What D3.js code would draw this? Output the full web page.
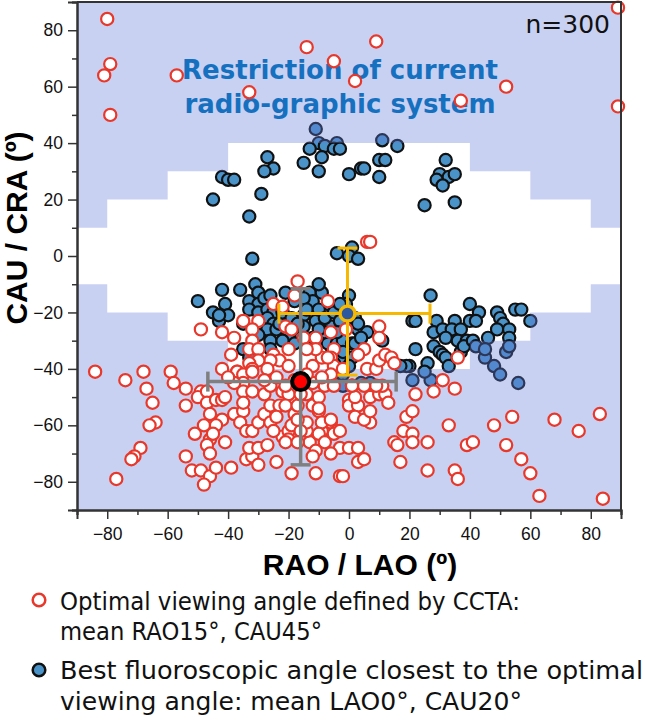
<!DOCTYPE html>
<html lang="en">
<head>
<meta charset="UTF-8">
<title>Optimal viewing angle</title>
<script src="https://cdn.jsdelivr.net/npm/d3@7"></script>
<style>
  body { margin: 0; background: #fff; }
</style>
</head>
<body>
<div id="my_dataviz"></div>
<script>

// optimal viewing angle by CCTA (red open circles), [RAO/LAO, CAU/CRA]
const redPts = [
  [-80,84],[-79,68],[-81,64],[-79,50],[-57,64],[-33,58],[-14,74],[-5,69],[9,76],[2,62],[52,60],[37,55],[89,88],[89,53],
  [6,5],[7,5],[-17,-9],[-18,-14],[-25,-17],[-22,-18],[-7,-16],[-35,-23],[-30,-23],[-49,-26],[-42,-27],[-38,-29],
  [-32,-26],[-32,-30],[-33,-33],[-30,-33],[-39,-35],[-21,-25],[-19,-26],[-15,-29],[-11,-29],[-6,-27],[-1,-26],
  [-5,-33],[-6,-36],[-9,-36],[-11,-33],[-14,-33],[-20,-33],[-25,-35],[-23,-37],[-26,-37],[-30,-37],[-33,-38],
  [-42,-40],[-37,-41],[-32,-40],[-27,-40],[-20,-39],[-12,-39],[-5,-39],[-2,-40],[10,-25],[10,-29],[5,-33],[3,-35],
  [6,-40],[9,-40],[10,-37],[12,-35],[14,-36],[15,-38],[-7,-36],
  [-84,-41],[-74,-44],[-68,-41],[-59,-41],[-67,-47],[-58,-45],[-54,-47],[-65,-52],[-64,-59],[-66,-60],[-54,-53],
  [-69,-68],[-71,-71],[-72,-72],[-77,-79],[-54,-71],[-52,-76],[-49,-76],[-46,-78],[-48,-81],[-44,-75],[-39,-75],
  [-49,-48],[-50,-50],[-47,-48],[-47,-52],[-44,-51],[-42,-51],[-46,-56],[-42,-58],[-51,-63],[-48,-60],[-44,-60],
  [-46,-65],[-41,-66],[-47,-67],[-46,-70],[-45,-63],[-38,-56],[-35,-55],[-36,-59],[-34,-62],[-32,-62],[-30,-59],
  [-28,-56],[-26,-59],[-34,-72],[-32,-71],[-30,-74],[-24,-73],[-33,-68],[-30,-68],[-27,-67],[-37,-41],[-35,-42],
  [-35,-45],[-35,-48],[-35,-52],[-32,-41],[-32,-48],[-28,-49],[-26,-46],[-22,-48],[-26,-53],[-23,-53],[-19,-50],
  [-41,-50],[-38,-45],[-40,-43],
  [-22,-64],[-20,-62],[-20,-65],[-21,-66],[-19,-77],[-11,-77],[-3,-78],[-2,-78],[-13,-66],[-11,-69],[-12,-71],
  [-9,-62],[-6,-59],[-4,-62],[-3,-68],[0,-68],[3,-68],[3,-73],[5,-72],[-14,-62],[-14,-59],[-10,-55],[-12,-53],
  [-14,-49],[-20,-49],[-21,-53],[-18,-56],[-17,-53],[-16,-49],[-6,-42],[1,-52],[7,-59],[-10,-50],[-10,-54],
  [-9,-59],[-6,-58],[-5,-63],[-10,-63],[-3,-62],[0,-51],[0,-53],[3,-53],[2,-57],[5,-58],[7,-55],[2,-50],[7,-50],
  [10,-49],[12,-49],[13,-52],[11,-46],[9,-46],[5,-46],[1,-46],[-8,-46],[-5,-46],[-19,-60],[-16,-62],[-17,-66],
  [-24,-57],[-25,-62],[-18,-44],[-21,-46],[-24,-43],[-12,-45],[-9,-43],[-28,-44],[-14,-42],[-17,-58],[-8,-66],[-6,-70],
  [36,-36],[31,-44],[28,-48],[35,-47],[22,-49],[19,-57],[21,-55],[18,-62],[21,-63],[21,-66],[15,-66],[16,-67],
  [26,-66],[17,-73],[26,-76],[33,-60],[39,-67],[41,-66],[35,-76],[36,-79],[48,-60],[54,-57],[52,-67],[57,-72],
  [60,-77],[63,-85],[68,-58],[76,-62],[83,-56],[84,-86]
];

// best fluoroscopic angle (blue filled circles)
const bluePts = [
  [-11,45],[-10,40],[-4,40],[11,41],[16,39],[-13,38],[-8,39],[-5,38],[-3,38],[-9,35],[-15,33],[-10,30],[-27,35],
  [-25,31],[-28,30],[-42,28],[-40,27],[-38,27],[-45,20],[-29,22],[-33,14],[-32,-1],[0,29],[4,31],[5,31],[10,34],
  [12,34],[10,28],[32,34],[30,29],[29,27],[33,28],[35,29],[31,25],[25,18],[35,19],[-4,1],[1,3],[0,0],[3,-1],
  [-50,-16],[-42,-12],[-36,-12],[-31,-10],[-41,-17],[-45,-20],[-43,-23],[-40,-21],[-43,-21],[-33,-16],[-30,-13],
  [-30,-17],[-28,-15],[-26,-14],[-33,-19],[-30,-20],[-27,-19],[-25,-20],[-27,-22],[-25,-24],[-27,-26],[-24,-26],
  [-23,-24],[-22,-20],[-21,-13],[-13,-13],[-12,-16],[-15,-15],[-9,-13],[-7,-17],[-6,-25],[-15,-21],[-14,-19],
  [-11,-23],[-15,-25],[-16,-29],[-12,-29],[-9,-30],[-7,-31],[-4,-31],[-2,-30],[-1,-25],[1,-31],[1,-36],[0,-39],
  [-26,-30],[-26,-33],[-35,-33],[-33,-36],[0,-14],[-1,-17],[-35,-24],[-30,-28],[-10,-10],
  [-18,-16],[-19,-22],[-17,-24],[-20,-28],[-10,-19],[-8,-22],[-5,-20],[-3,-23],[-3,-17],[-1,-20],[2,-22],[3,-26],
  [4,-29],[2,-31],[-4,-27],[-8,-27],[-10,-26],[-18,-31],[-22,-30],[-6,-35],[-3,-36],[-2,-34],[-5,-38],[-2,-42],
  [-5,-45],[-2,-46],[1,-46],[4,-45],[7,-45],
  [3,-24],[6,-27],[4,-29],[11,-30],[27,-14],[21,-23],[22,-23],[29,-23],[35,-23],[40,-23],[40,-17],[43,-20],
  [42,-23],[49,-20],[50,-22],[51,-24],[49,-26],[53,-26],[55,-19],[57,-19],[60,-23],[28,-27],[31,-26],[34,-26],
  [32,-29],[37,-26],[36,-30],[39,-30],[28,-32],[22,-33],[30,-34],[31,-35],[32,-36],[26,-38],[20,-39],[19,-39],
  [17,-39],[33,-39],[37,-34],[38,-32],[41,-30],[46,-29],[53,-29],
  [42,-32],[45,-36],[48,-39],[50,-42],[52,-34],[53,-32],[56,-45],[21,-44],[27,-44],[25,-41],[45,-33]
];

// means with error bars: [mean x, mean y, x low, x high, y low, y high]
const redMean  = [-16, -44.5, -46.7, 15.6, -74, -11.6];
const blueMean = [-0.5, -20.4, -23.2, 26.8, -42.2, 2.8];

// limits of the radiographic system: |CAU/CRA| allowed for each RAO/LAO band
const bandEdges  = [-90, -80, -60, -40, 40, 60, 80, 90];
const bandLimits = [10, 20, 30, 40, 30, 20, 10];

const majorTicks = [-80, -60, -40, -20, 0, 20, 40, 60, 80];
const minorTicks = [-90, -70, -50, -30, -10, 10, 30, 50, 70, 90];

const legendLines = [
  ["Optimal viewing angle defined by CCTA:", "mean RAO15°, CAU45°"],
  ["Best fluoroscopic angle closest to the optimal", "viewing angle: mean LAO0°, CAU20°"]
];
const legendWidths = [[460, 262], [583, 462]];

const W = 646, H = 726;
const plot = {left: 77, right: 621, top: 2, bottom: 510};

const svg = d3.select("#my_dataviz")
  .append("svg")
    .attr("width", W)
    .attr("height", H)
    .style("display", "block");

const x = d3.scaleLinear().domain([-90, 90]).range([plot.left, plot.right]);
const y = d3.scaleLinear().domain([-90, 90]).range([plot.bottom, plot.top]);

const R = 6.1;

// blue points go under the shaded restriction
svg.append("g")
  .selectAll("circle")
  .data(bluePts)
  .join("circle")
    .attr("cx", d => x(d[0]))
    .attr("cy", d => y(d[1]))
    .attr("r", R)
    .attr("fill", "#4a93c9")
    .attr("stroke", "#111")
    .attr("stroke-width", 2.2);

// restricted region = plot rectangle minus the stepped allowed area
let upper = [], lower = [];
bandLimits.forEach((lim, i) => {
  upper.push([bandEdges[i], lim], [bandEdges[i + 1], lim]);
  lower.push([bandEdges[i], -lim], [bandEdges[i + 1], -lim]);
});
const allowed = upper.concat(lower.reverse());
const line = d3.line().x(d => x(d[0])).y(d => y(d[1]));
const outer = `M${x(-90)},${y(90)}H${x(90)}V${y(-90)}H${x(-90)}Z`;
svg.append("path")
  .attr("d", outer + line(allowed) + "Z")
  .attr("fill-rule", "evenodd")
  .attr("fill", "rgb(101,124,218)")
  .attr("fill-opacity", 0.35);

// title inside the plot
const title = svg.append("text")
  .attr("font-family", "'DejaVu Sans', Verdana, sans-serif")
  .attr("font-weight", "bold")
  .attr("font-size", 26)
  .attr("fill", "#1670c0")
  .attr("text-anchor", "middle");
title.append("tspan").attr("x", 340).attr("y", 79).text("Restriction of current");
title.append("tspan").attr("x", 340).attr("y", 113).text("radio-graphic system");

// red points
svg.append("g")
  .selectAll("circle")
  .data(redPts)
  .join("circle")
    .attr("cx", d => x(d[0]))
    .attr("cy", d => y(d[1]))
    .attr("r", R)
    .attr("fill", "#fff")
    .attr("stroke", "#e8382b")
    .attr("stroke-width", 2.2);

// error bars
function errorBar(m, color, width) {
  const g = svg.append("g").attr("stroke", color).attr("stroke-width", width).attr("fill", "none");
  const cap = 10;
  g.append("line").attr("x1", x(m[2])).attr("x2", x(m[3])).attr("y1", y(m[1])).attr("y2", y(m[1]));
  g.append("line").attr("x1", x(m[0])).attr("x2", x(m[0])).attr("y1", y(m[4])).attr("y2", y(m[5]));
  [m[2], m[3]].forEach(v => g.append("line")
    .attr("x1", x(v)).attr("x2", x(v)).attr("y1", y(m[1]) - cap).attr("y2", y(m[1]) + cap));
  [m[4], m[5]].forEach(v => g.append("line")
    .attr("x1", x(m[0]) - cap).attr("x2", x(m[0]) + cap).attr("y1", y(v)).attr("y2", y(v)));
}
errorBar(blueMean, "#f6b800", 3);
errorBar(redMean, "#7f7f7f", 3.5);

svg.append("circle")
  .attr("cx", x(blueMean[0])).attr("cy", y(blueMean[1])).attr("r", 7.5)
  .attr("fill", "#2d58a0").attr("stroke", "#f6b800").attr("stroke-width", 3.5);
svg.append("circle")
  .attr("cx", x(redMean[0])).attr("cy", y(redMean[1])).attr("r", 8.5)
  .attr("fill", "#ff0000").attr("stroke", "#000").attr("stroke-width", 4);

// axes
const tickFont = "'Liberation Sans', Arial, sans-serif";
function styleAxis(g) {
  g.select(".domain").attr("stroke", "#333").attr("stroke-width", 2);
  g.selectAll(".tick line").attr("stroke", "#333").attr("stroke-width", 1.5);
  g.selectAll(".tick text").attr("font-family", tickFont).attr("font-size", 17.5).attr("fill", "#111");
}
svg.append("g")
  .attr("transform", `translate(0,${plot.bottom})`)
  .call(d3.axisBottom(x).tickValues(minorTicks).tickSize(5).tickFormat(""))
  .call(styleAxis);
svg.append("g")
  .attr("transform", `translate(0,${plot.bottom})`)
  .call(d3.axisBottom(x).tickValues(majorTicks).tickSize(9).tickPadding(9))
  .call(styleAxis);
svg.append("g")
  .attr("transform", `translate(${plot.left},0)`)
  .call(d3.axisLeft(y).tickValues(minorTicks).tickSize(5).tickFormat(""))
  .call(styleAxis);
svg.append("g")
  .attr("transform", `translate(${plot.left},0)`)
  .call(d3.axisLeft(y).tickValues(majorTicks).tickSize(9).tickPadding(5))
  .call(styleAxis);

// frame top/right
svg.append("path")
  .attr("d", `M${plot.left},${plot.top}H${plot.right}V${plot.bottom}`)
  .attr("fill", "none").attr("stroke", "#333").attr("stroke-width", 2);

// axis titles
svg.append("text")
  .attr("x", 360).attr("y", 575)
  .attr("text-anchor", "middle")
  .attr("font-family", tickFont).attr("font-weight", "bold").attr("font-size", 30)
  .text("RAO / LAO (º)");
svg.append("text")
  .attr("transform", "translate(27,228) rotate(-90)")
  .attr("text-anchor", "middle")
  .attr("font-family", tickFont).attr("font-weight", "bold").attr("font-size", 30)
  .text("CAU / CRA (º)");

svg.append("text")
  .attr("x", 610).attr("y", 33)
  .attr("text-anchor", "end")
  .attr("font-family", "'DejaVu Sans', Verdana, sans-serif")
  .attr("font-size", 25)
  .attr("fill", "#111")
  .text("n=300");

// legend
const legendFont = "'DejaVu Sans', Verdana, sans-serif";
const legendY = [[610, 640], [679, 710]];
legendLines.forEach((lines, i) => {
  lines.forEach((s, j) => svg.append("text")
    .attr("x", 60).attr("y", legendY[i][j])
    .attr("font-family", legendFont).attr("font-size", 25).attr("fill", "#111")
    .attr("textLength", legendWidths[i][j])
    .attr("lengthAdjust", "spacingAndGlyphs")
    .text(s));
});
svg.append("circle").attr("cx", 39).attr("cy", 600).attr("r", 6.3)
  .attr("fill", "#fff").attr("stroke", "#e8382b").attr("stroke-width", 2.5);
svg.append("circle").attr("cx", 39).attr("cy", 670).attr("r", 6.3)
  .attr("fill", "#4a93c9").attr("stroke", "#111").attr("stroke-width", 2.5);

</script>
</body>
</html>
